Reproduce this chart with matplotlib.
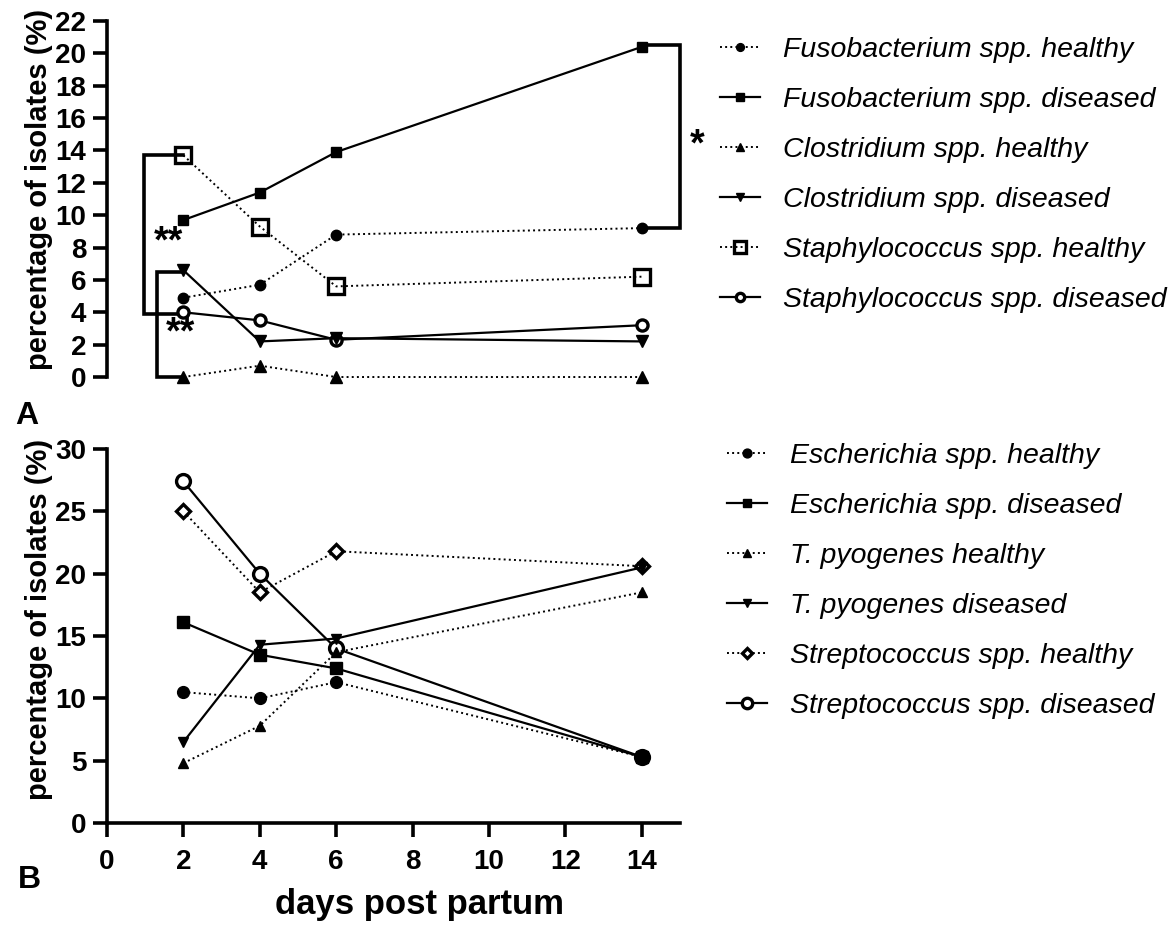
import matplotlib
matplotlib.use("Agg")
import matplotlib.pyplot as plt

plt.rcParams['font.family'] = ['Liberation Sans', 'DejaVu Sans']

days = [2, 4, 6, 14]

# panel A
fuso_healthy = [4.9, 5.7, 8.8, 9.2]
fuso_diseased = [9.7, 11.4, 13.9, 20.4]
clos_healthy = [0.0, 0.7, 0.0, 0.0]
clos_diseased = [6.6, 2.2, 2.4, 2.2]
staph_healthy = [13.7, 9.3, 5.6, 6.2]
staph_diseased = [4.0, 3.5, 2.3, 3.2]

# panel B
esch_healthy = [10.5, 10.0, 11.3, 5.3]
esch_diseased = [16.1, 13.5, 12.4, 5.3]
pyo_healthy = [4.8, 7.8, 13.7, 18.5]
pyo_diseased = [6.5, 14.3, 14.8, 20.5]
strep_healthy = [25.0, 18.5, 21.8, 20.6]
strep_diseased = [27.4, 20.0, 14.0, 5.3]

labels_a = ["Fusobacterium spp. healthy", "Fusobacterium spp. diseased",
            "Clostridium spp. healthy", "Clostridium spp. diseased",
            "Staphylococcus spp. healthy", "Staphylococcus spp. diseased"]
labels_b = ["Escherichia spp. healthy", "Escherichia spp. diseased",
            "T. pyogenes healthy", "T. pyogenes diseased",
            "Streptococcus spp. healthy", "Streptococcus spp. diseased"]

fig = plt.figure(figsize=(11.73, 9.36), dpi=100)
ax1 = fig.add_axes([0.0912, 0.5972, 0.4885, 0.3804])
ax2 = fig.add_axes([0.0912, 0.1207, 0.4885, 0.3996])


def draw(ax, series, styles, labels):
    n = len(series)
    for i, (vals, st, lab) in enumerate(zip(series, styles, labels)):
        mk, ls, ms, mfc = st
        ax.plot(days, vals, color='black', marker=mk, linestyle=ls,
                lw=1.6 if ls == '-' else 1.4, ms=ms, mfc=mfc, mec='black',
                mew=2.4 if mfc != 'black' else 1, label=lab, clip_on=False,
                zorder=3 + n - i)


styles_a = [('o', ':', 7.5, 'black'), ('s', '-', 7, 'black'),
            ('^', ':', 8, 'black'), ('v', '-', 8, 'black'),
            ('s', ':', 12, 'none'), ('o', '-', 8, 'white')]
styles_b = [('o', ':', 8.5, 'black'), ('s', '-', 8, 'black'),
            ('^', ':', 7, 'black'), ('v', '-', 7.5, 'black'),
            ('D', ':', 7, 'white'), ('o', '-', 10, 'white')]

draw(ax1, [fuso_healthy, fuso_diseased, clos_healthy, clos_diseased,
           staph_healthy, staph_diseased], styles_a, labels_a)
draw(ax2, [esch_healthy, esch_diseased, pyo_healthy, pyo_diseased,
           strep_healthy, strep_diseased], styles_b, labels_b)

for ax in (ax1, ax2):
    ax.set_xlim(0, 15)
    ax.spines['top'].set_visible(False)
    ax.spines['right'].set_visible(False)
    for sp in ('left', 'bottom'):
        ax.spines[sp].set_linewidth(2.6)
    ax.tick_params(width=2.6, length=10, pad=5)
    ax.set_ylabel('percentage of isolates (%)', fontsize=21, fontweight='bold')

ax1.set_ylim(0, 22)
ax1.set_yticks(range(0, 23, 2))
ax1.spines['bottom'].set_visible(False)
ax1.set_xticks([])
ax1.yaxis.set_label_coords(-0.095, 0.528)

ax2.set_ylim(0, 30)
ax2.set_yticks(range(0, 31, 5))
ax2.set_xticks(range(0, 15, 2))
ax2.tick_params(axis='x', pad=9)
ax2.yaxis.set_label_coords(-0.095, 0.543)
ax2.set_xlabel('days post partum', fontsize=25, fontweight='bold', va='center')
ax2.xaxis.set_label_coords(0.546, -0.219)

for ax in (ax1, ax2):
    for t in ax.get_yticklabels() + ax.get_xticklabels():
        t.set_fontweight('bold')
        t.set_fontsize(20)

# significance brackets in panel A
bk = dict(color='black', lw=2.6, clip_on=False, zorder=2, solid_joinstyle='miter')
x0 = days[0]
ax1.plot([x0, 0.97, 0.97, x0], [staph_healthy[0], staph_healthy[0],
                                staph_diseased[0] - 0.1, staph_diseased[0] - 0.1], **bk)
ax1.plot([x0, 1.3, 1.3, x0], [clos_diseased[0] - 0.1, clos_diseased[0] - 0.1,
                              clos_healthy[0], clos_healthy[0]], **bk)
xe = days[-1]
ax1.plot([xe, 15.0, 15.0, xe], [fuso_diseased[-1] + 0.1, fuso_diseased[-1] + 0.1,
                                fuso_healthy[-1], fuso_healthy[-1]], **bk)
star = dict(fontsize=27, fontweight='bold', ha='center', va='center')
ax1.text(1.6, 8.3, '**', **star)
ax1.text(1.92, 2.7, '**', **star)
ax1.text(15.45, 14.3, '*', **star)

leg_kw = dict(loc='upper left', bbox_transform=fig.transFigure, frameon=False,
              handlelength=1.4, handletextpad=0.8, labelspacing=0.84,
              borderpad=0, borderaxespad=0, markerscale=0.75,
              prop=dict(size=20.5, style='italic'))
ax1.legend(bbox_to_anchor=(0.614, 0.9605), **leg_kw)
ax2.legend(bbox_to_anchor=(0.62, 0.5265), **leg_kw)

fig.text(0.013, 1 - 416 / 936, 'A', fontsize=23, fontweight='bold', va='center')
fig.text(0.015, 1 - 880 / 936, 'B', fontsize=23, fontweight='bold', va='center')

fig.savefig('out.png', dpi=100, facecolor='white')
